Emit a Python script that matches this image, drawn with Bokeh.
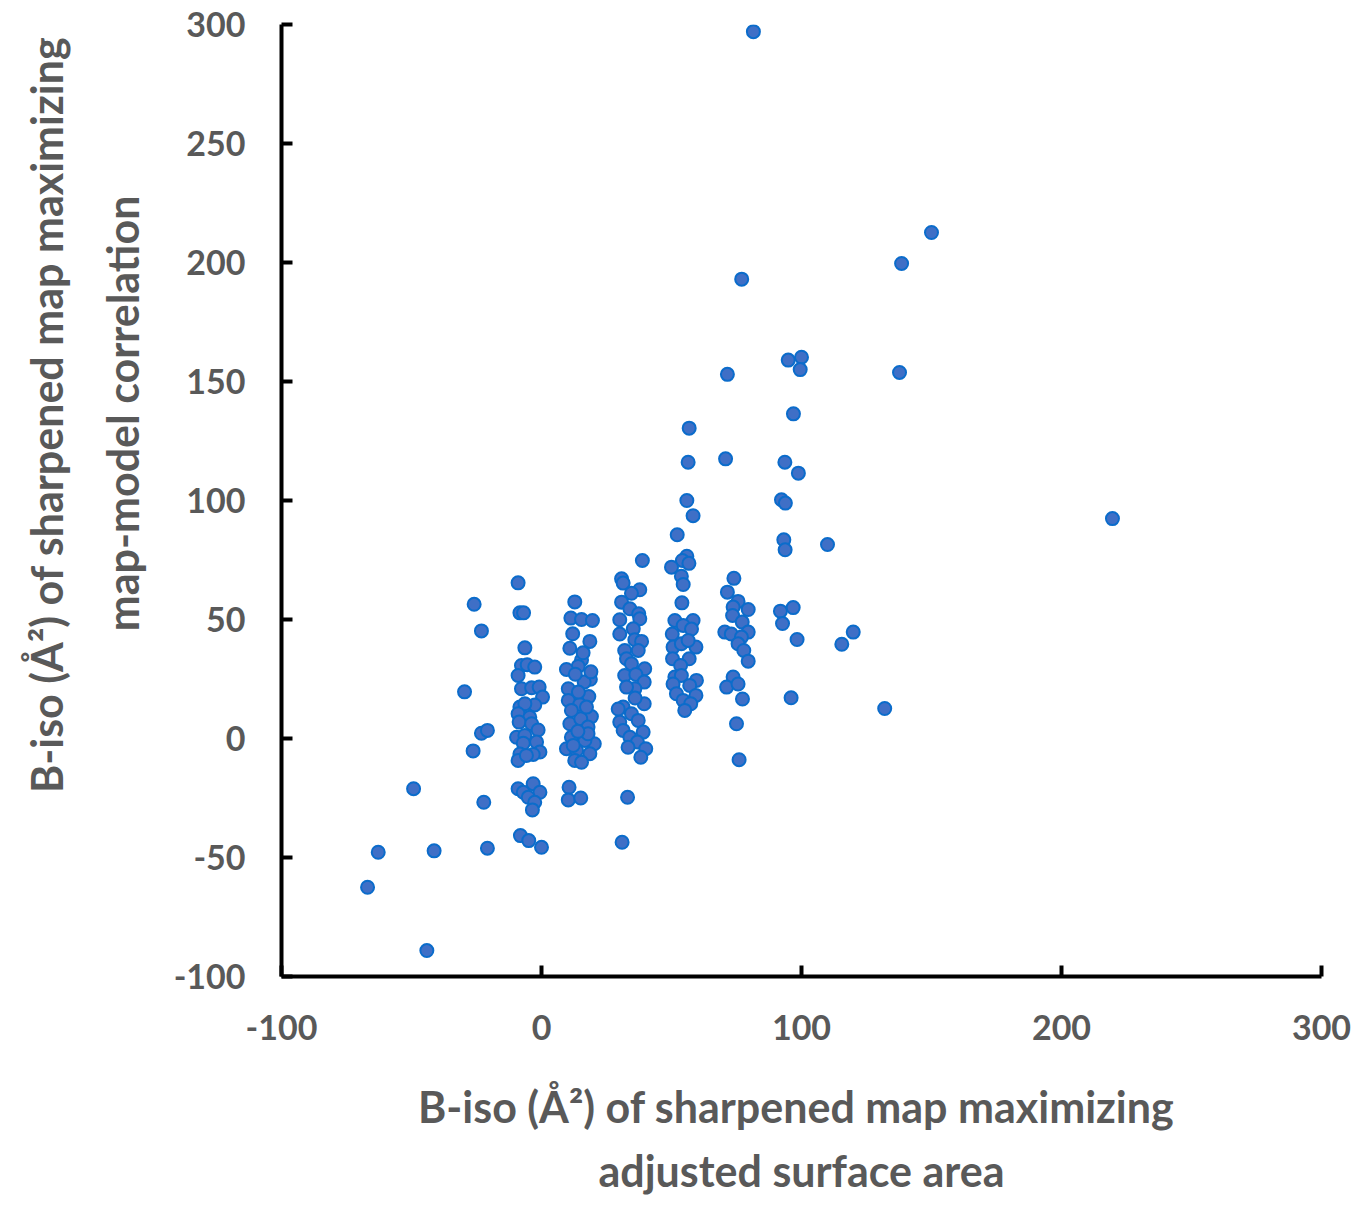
from bokeh.plotting import figure
from bokeh.models import Range1d, FixedTicker, Title, ColumnDataSource
from bokeh.embed import file_html
from bokeh.resources import INLINE

# B-iso maximizing adjusted surface area (x) vs maximizing map-model correlation (y)
left_x = [-25.9, -23.1, -29.6, -23.1, -20.8, -26.3, -49.2, -22.2, -62.8, -41.3, -20.8, -66.9, -44.1]
left_y = [56.4, 45.2, 19.6, 2.2, 3.4, -5.2, -21.1, -26.8, -47.8, -47.2, -46.1, -62.5, -89.1]

clusterA_x = [-9.0, -8.3, -6.9, -6.4, -7.7, -5.5, -2.6, -9.0, -7.7, -3.8, -0.9, 0.4, -2.6, -8.3, -6.4,
              -9.0, -4.5, -8.6, -3.8, -1.3, -9.6, -6.4, -7.0, -1.9, -0.6, -8.3, -3.2, -9.0, -5.8,
              -9.0, -3.2, -0.6, -7.0, -5.1, -2.6, -3.5, -8.1, -4.9, 0.0]
clusterA_y = [65.4, 52.8, 52.8, 38.1, 30.7, 31.0, 30.0, 26.5, 20.9, 21.3, 21.6, 17.4, 14.1, 13.2, 14.6,
              10.4, 8.9, 6.9, 6.2, 3.6, 0.5, 1.3, -2.0, -1.5, -5.7, -6.5, -6.7, -9.2, -7.1,
              -21.1, -19.0, -22.6, -22.6, -24.7, -26.8, -30.0, -40.8, -42.9, -45.7]

clusterB_x = [12.8, 11.3, 15.4, 19.6, 18.6, 10.9, 15.4, 14.1, 9.6, 18.8, 16.4, 10.3, 18.2, 10.3, 14.7,
              19.2, 10.9, 15.1, 17.9, 11.5, 20.3, 16.7, 9.6, 13.5, 18.6, 12.8, 15.4, 10.6, 10.3, 15.1,
              14.2, 11.5, 17.3, 12.2, 17.9, 13.0, 16.0, 12.0, 19.0, 14.0]
clusterB_y = [57.4, 50.6, 50.0, 49.6, 40.8, 37.9, 33.0, 30.3, 29.0, 24.9, 23.7, 20.9, 17.6, 16.0, 14.3,
              9.2, 6.2, 8.3, 4.8, 0.5, -2.2, -0.8, -4.3, -5.0, -6.4, -9.2, -10.0, -20.5, -25.8, -25.0,
              19.5, 11.8, 13.2, -2.9, 2.0, 27.0, 36.0, 44.0, 28.0, 3.0]

clusterC_x = [38.8, 30.8, 31.4, 37.8, 34.6, 30.8, 34.0, 37.4, 30.1, 37.8, 35.3, 30.1, 35.9, 38.5, 32.0,
              32.7, 39.7, 34.6, 32.0, 36.3, 39.5, 35.9, 39.5, 31.4, 34.6, 30.1, 37.2, 31.4, 39.1, 34.0,
              36.9, 33.3, 40.1, 38.2, 33.1, 31.0, 32.7, 37.2, 29.5, 36.0]
clusterC_y = [74.8, 67.1, 65.3, 62.5, 61.0, 57.3, 54.5, 52.4, 49.9, 50.3, 46.1, 43.9, 41.5, 40.8, 37.0,
              33.5, 29.3, 31.4, 26.5, 26.9, 23.7, 20.9, 14.6, 13.2, 10.4, 6.9, 7.6, 3.4, 2.7, 0.5,
              -1.5, -3.7, -4.3, -7.9, -24.7, -43.6, 21.6, 37.0, 12.4, 17.0]

clusterD_x = [56.8, 56.4, 55.9, 58.3, 52.2, 55.9, 54.2, 56.7, 50.0, 53.8, 54.5, 54.0, 51.3, 58.3, 54.5,
              57.7, 50.3, 50.6, 59.4, 53.8, 56.4, 50.4, 56.8, 53.5, 51.3, 53.8, 59.6, 50.6, 57.0, 51.9,
              59.4, 54.5, 57.4, 55.1]
clusterD_y = [130.4, 116.1, 100.0, 93.6, 85.6, 76.6, 74.8, 73.6, 72.0, 68.2, 64.7, 57.0, 49.6, 49.6, 47.5,
              46.0, 43.9, 38.4, 38.4, 39.8, 41.2, 33.5, 33.5, 30.7, 25.8, 26.5, 24.4, 22.9, 22.3, 18.8,
              18.1, 16.0, 14.6, 11.8]

clusterE_x = [71.5, 70.8, 74.0, 71.5, 75.6, 73.7, 79.5, 73.5, 77.2, 70.5, 73.0, 79.5, 76.9, 75.6, 77.8,
              79.5, 73.7, 71.2, 75.6, 77.3, 75.0, 76.0, 81.5, 77.0]
clusterE_y = [153.0, 117.5, 67.3, 61.5, 57.6, 55.2, 54.2, 51.7, 48.9, 44.7, 43.9, 44.7, 42.6, 39.8, 37.0,
              32.5, 25.8, 21.6, 22.9, 16.6, 6.2, -8.9, 297.0, 193.0]

right_x = [94.9, 100.0, 99.5, 96.9, 93.6, 98.8, 92.3, 93.8, 93.2, 93.7, 110.0, 91.9, 96.8, 92.7, 98.3,
           119.9, 115.5, 96.0, 132.0, 150.0, 138.5, 137.7, 219.6]
right_y = [159.0, 160.2, 155.0, 136.4, 116.1, 111.5, 100.3, 98.9, 83.5, 79.3, 81.5, 53.5, 55.0, 48.3, 41.6,
           44.7, 39.6, 17.1, 12.6, 212.6, 199.6, 153.8, 92.4]

x_ticks = [-100, 0, 100, 200, 300]
y_ticks = [-100, -50, 0, 50, 100, 150, 200, 250, 300]

x_title = ["B-iso (Å²)  of sharpened map maximizing", "adjusted surface area"]
y_title = ["B-iso (Å²) of sharpened map maximizing", "map-model correlation"]

xs = left_x + clusterA_x + clusterB_x + clusterC_x + clusterD_x + clusterE_x + right_x
ys = left_y + clusterA_y + clusterB_y + clusterC_y + clusterD_y + clusterE_y + right_y
src = ColumnDataSource(dict(x=xs, y=ys))

GRAY = "#595959"
FONT = "Lato"
TSIZE = "43px"

p = figure(width=1359, height=1207, output_backend="svg", toolbar_location=None,
           x_range=Range1d(-100, 300), y_range=Range1d(-100, 300),
           min_border_left=281, min_border_right=38, min_border_top=24, min_border_bottom=231)
p.outline_line_color = None
p.xgrid.visible = False
p.ygrid.visible = False
p.background_fill_color = "white"
p.border_fill_color = "white"

p.scatter("x", "y", source=src, size=13, fill_color="#3f6fc6", line_color="#0b6ccb", line_width=2)

for ax, ticks in ((p.xaxis[0], x_ticks), (p.yaxis[0], y_ticks)):
    ax.ticker = FixedTicker(ticks=ticks)
    ax.axis_line_width = 4
    ax.axis_line_color = "black"
    ax.major_tick_line_width = 4
    ax.major_tick_line_color = "black"
    ax.major_tick_in = 11
    ax.major_tick_out = 0
    ax.minor_tick_line_color = None
    ax.major_label_text_font = FONT
    ax.major_label_text_font_style = "bold"
    ax.major_label_text_font_size = "34px"
    ax.major_label_text_color = GRAY
    ax.major_label_overrides = {t: str(t) for t in ticks}

p.yaxis.major_label_standoff = 36
p.xaxis.major_label_standoff = 38

# x title: first line as the axis label, second line as a Title panel
xa = p.xaxis[0]
xa.axis_label = x_title[0]
xa.axis_label_text_font = FONT
xa.axis_label_text_font_style = "bold"
xa.axis_label_text_font_size = TSIZE
xa.axis_label_text_color = GRAY
xa.axis_label_standoff = 38
p.add_layout(Title(text=x_title[1], align="center", vertical_align="top", text_font=FONT,
                   text_font_style="bold", text_font_size=TSIZE, text_color=GRAY, standoff=20), "below")

# y title: two Title panels, right-aligned (toward the top) with offsets
p.add_layout(Title(text=y_title[1], align="right", vertical_align="bottom", offset=171, text_font=FONT,
                   text_font_style="bold", text_font_size=TSIZE, text_color=GRAY, standoff=46), "left")
p.add_layout(Title(text=y_title[0], align="right", vertical_align="bottom", offset=12, text_font=FONT,
                   text_font_style="bold", text_font_size=TSIZE, text_color=GRAY, standoff=0), "left")

open("out.html", "w").write(file_html(p, INLINE))
